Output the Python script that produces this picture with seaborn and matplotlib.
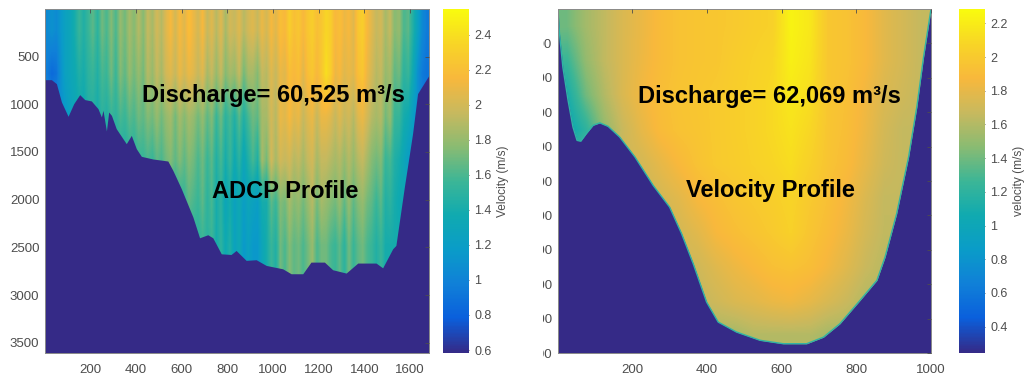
import numpy as np
import seaborn as sns
import matplotlib
matplotlib.use("Agg")
import matplotlib.pyplot as plt
from matplotlib.colors import LinearSegmentedColormap
from matplotlib.transforms import Bbox

sns.set_theme(style="white")
plt.rcParams['font.family'] = ['Liberation Sans', 'DejaVu Sans']

W, H = 1027, 379
GRIS = '#4d4d4d'
FONDO = '#352a87'

parula = ['#352a87', '#0a5fdc', '#1080d8', '#0a9cc8', '#10aab0', '#3cb696',
          '#8abb72', '#c8b95e', '#f8b83c', '#f8d526', '#f9fb0e']

# ADCP: velocidad por estacion (cada 20 unidades) a varias profundidades
adcp_z225 = [1.05, 1.10, 1.05, 1.15, 1.25, 1.30, 1.40, 1.55, 1.45, 1.55,
             1.65, 1.50, 1.70, 1.60, 1.75, 1.60, 1.80, 1.70, 1.85, 1.75,
             1.90, 1.75, 1.95, 1.85, 2.00, 1.90, 2.05, 2.15, 2.00, 2.15,
             2.05, 2.20, 2.10, 2.00, 2.15, 1.95, 2.05, 1.90, 2.05, 1.85,
             2.00, 1.95, 2.05, 1.90, 2.00, 2.05, 1.95, 2.10, 2.00, 2.15,
             2.05, 2.20, 2.15, 2.30, 2.20, 2.25, 2.15, 2.25, 2.30, 2.20,
             2.25, 2.35, 2.30, 2.15, 2.20, 2.10, 2.15, 2.05, 2.25, 2.30,
             2.15, 2.05, 1.95, 2.00, 1.85, 1.95, 1.75, 1.80, 1.60, 1.65,
             1.45, 1.25, 1.05, 0.95]
adcp_z676 = [0.95, 0.85, 0.90, 1.10, 1.25, 1.30, 1.35, 1.45, 1.40, 1.50,
             1.55, 1.45, 1.60, 1.55, 1.70, 1.55, 1.75, 1.65, 1.80, 1.70,
             1.80, 1.70, 1.90, 1.80, 1.95, 1.85, 2.00, 2.05, 1.95, 2.10,
             2.00, 2.10, 2.05, 1.95, 2.05, 1.85, 1.95, 1.80, 1.95, 1.75,
             1.85, 1.80, 1.95, 1.70, 1.85, 1.85, 1.75, 1.95, 1.90, 2.05,
             1.95, 2.10, 2.05, 2.20, 2.15, 2.20, 2.05, 2.20, 2.25, 2.15,
             2.25, 2.40, 2.30, 2.10, 2.15, 2.05, 2.10, 2.05, 2.20, 2.25,
             2.10, 2.00, 1.90, 1.95, 1.80, 1.85, 1.65, 1.70, 1.50, 1.55,
             1.35, 1.10, 0.95, 0.90]
adcp_z1127 = [1.10, 1.10, 1.10, 1.10, 1.15, 1.25, 1.30, 1.35, 1.35, 1.45,
              1.45, 1.40, 1.50, 1.45, 1.55, 1.50, 1.60, 1.55, 1.65, 1.60,
              1.70, 1.65, 1.75, 1.70, 1.80, 1.70, 1.80, 1.85, 1.70, 1.85,
              1.75, 1.85, 1.80, 1.70, 1.80, 1.65, 1.75, 1.55, 1.70, 1.50,
              1.60, 1.45, 1.65, 1.45, 1.60, 1.70, 1.65, 1.85, 1.85, 2.00,
              1.90, 2.10, 2.05, 2.15, 2.05, 2.10, 1.95, 2.05, 2.10, 1.95,
              2.10, 2.10, 2.05, 1.95, 2.05, 1.95, 2.00, 1.90, 2.05, 2.10,
              2.00, 1.90, 1.85, 1.90, 1.70, 1.80, 1.55, 1.55, 1.40, 1.35,
              1.20, 1.10, 1.00, 1.00]
adcp_z1578 = [1.40] * 10 + [1.45] * 8 + [1.50, 1.50,
              1.55, 1.55, 1.60, 1.55, 1.65, 1.60, 1.70, 1.75, 1.65, 1.75,
              1.65, 1.75, 1.70, 1.60, 1.70, 1.55, 1.65, 1.45, 1.60, 1.40,
              1.55, 1.35, 1.50, 1.30, 1.45, 1.60, 1.45, 1.85, 1.70, 2.00,
              1.85, 2.00, 1.95, 2.00, 1.90, 1.95, 1.85, 1.95, 2.00, 1.85,
              1.95, 1.95, 1.90, 1.85, 1.90, 1.80, 1.90, 1.80, 1.90, 1.95,
              1.85, 1.75, 1.70, 1.75, 1.55, 1.60, 1.45, 1.40, 1.30, 1.20,
              1.20, 1.20, 1.20, 1.20]
adcp_z2029 = [1.50] * 30 + [
              1.55, 1.65, 1.60, 1.55, 1.65, 1.50, 1.60, 1.40, 1.50, 1.30,
              1.40, 1.25, 1.35, 1.20, 1.30, 1.25, 1.20, 1.40, 1.40, 1.65,
              1.55, 1.75, 1.70, 1.85, 1.75, 1.80, 1.70, 1.80, 1.90, 1.70,
              1.85, 1.80, 1.75, 1.70, 1.80, 1.65, 1.80, 1.65, 1.75, 1.80,
              1.70, 1.65, 1.55, 1.65, 1.45, 1.50, 1.40, 1.35, 1.35, 1.35,
              1.35, 1.35, 1.35, 1.35]
adcp_z2480 = [1.50] * 34 + [
              1.55, 1.50, 1.55, 1.40, 1.50, 1.35,
              1.45, 1.25, 1.35, 1.15, 1.25, 1.15, 1.15, 1.30, 1.40, 1.55,
              1.45, 1.70, 1.60, 1.75, 1.65, 1.70, 1.60, 1.70, 1.80, 1.60,
              1.70, 1.70, 1.60, 1.55, 1.65, 1.50, 1.70, 1.55, 1.65, 1.70,
              1.60, 1.55, 1.45, 1.55, 1.40, 1.40] + [1.40] * 8

# Modelo: velocidad por estacion (cada 50 unidades) cada 100 de profundidad
vel_z50 = [1.40, 1.55, 1.65, 1.75, 1.82, 1.90, 1.95, 1.97, 1.98, 2.00,
           2.03, 2.05, 2.24, 2.18, 1.98, 1.95, 1.88, 1.78, 1.72, 1.66]
vel_z150 = [1.25, 1.50, 1.65, 1.75, 1.83, 1.90, 1.95, 1.97, 1.98, 2.02,
            2.05, 2.08, 2.22, 2.16, 1.98, 1.95, 1.88, 1.78, 1.72, 1.66]
vel_z250 = [1.10, 1.40, 1.60, 1.75, 1.85, 1.92, 1.96, 1.98, 2.00, 2.03,
            2.06, 2.10, 2.18, 2.13, 1.98, 1.93, 1.85, 1.75, 1.70, 1.66]
vel_z350 = [1.00, 1.20, 1.50, 1.68, 1.80, 1.90, 1.95, 1.97, 2.00, 2.03,
            2.06, 2.10, 2.15, 2.09, 1.97, 1.92, 1.83, 1.72, 1.66, 1.66]
vel_z450 = [1.20, 1.40, 1.60, 1.70, 1.72, 1.80, 1.88, 1.95, 2.00, 2.02,
            2.05, 2.08, 2.12, 2.05, 1.96, 1.90, 1.80, 1.70, 1.66, 1.66]
vel_z550 = [1.60, 1.60, 1.60, 1.65, 1.68, 1.72, 1.78, 1.87, 1.92, 1.97,
            2.00, 2.03, 2.07, 2.00, 1.93, 1.85, 1.75, 1.66, 1.66, 1.66]
vel_z650 = [1.60, 1.60, 1.60, 1.65, 1.65, 1.68, 1.72, 1.78, 1.87, 1.92,
            1.96, 2.00, 2.05, 1.97, 1.90, 1.82, 1.72, 1.65, 1.65, 1.65]
vel_z750 = [1.60, 1.60, 1.60, 1.60, 1.65, 1.65, 1.68, 1.70, 1.77, 1.83,
            1.88, 1.93, 1.95, 1.92, 1.85, 1.77, 1.68, 1.62, 1.60, 1.60]
vel_z850 = [1.60, 1.60, 1.60, 1.60, 1.60, 1.60, 1.62, 1.65, 1.70, 1.75,
            1.78, 1.82, 1.84, 1.80, 1.74, 1.68, 1.60, 1.60, 1.60, 1.60]
vel_z950 = [1.55, 1.55, 1.55, 1.55, 1.55, 1.55, 1.55, 1.55, 1.55, 1.55,
            1.60, 1.60, 1.60, 1.60, 1.55, 1.55, 1.55, 1.55, 1.55, 1.55]

# lecho del rio
adcp_bed_x = [0, 29, 51, 73, 102, 127, 153, 175, 204, 233, 248, 255, 270, 280,
              292, 313, 357, 379, 401, 423, 474, 518, 539, 561, 598, 649, 678,
              714, 736, 773, 816, 838, 882, 926, 970, 1042, 1079, 1130, 1166,
              1225, 1261, 1320, 1371, 1451, 1480, 1524, 1538, 1575, 1611, 1633,
              1669, 1683]
adcp_bed_z = [742, 742, 784, 976, 1126, 993, 899, 951, 965, 1046, 1133, 1063,
              1280, 1081, 1116, 1256, 1413, 1326, 1466, 1546, 1574, 1588, 1595,
              1693, 1885, 2183, 2400, 2368, 2400, 2568, 2575, 2533, 2637, 2630,
              2690, 2725, 2777, 2777, 2655, 2655, 2735, 2770, 2665, 2665, 2715,
              2515, 2480, 1868, 1308, 888, 749, 696]
vel_bed_x = [1, 5, 14, 28, 41, 52, 62, 77, 95, 113, 135, 166, 207, 256, 300,
             332, 363, 399, 430, 479, 542, 604, 667, 712, 756, 810, 855, 877,
             908, 940, 962, 980, 1000]
vel_bed_z = [0, 72, 169, 266, 343, 382, 384, 362, 338, 331, 341, 372, 430, 513,
             576, 653, 740, 852, 910, 939, 963, 973, 973, 954, 915, 847, 789,
             721, 595, 430, 285, 140, 0]

adcp_xticks = [200, 400, 600, 800, 1000, 1200, 1400, 1600]
adcp_yticks = [500, 1000, 1500, 2000, 2500, 3000, 3500]
adcp_cticks = [0.6, 0.8, 1, 1.2, 1.4, 1.6, 1.8, 2, 2.2, 2.4]
vel_xticks = [200, 400, 600, 800, 1000]
vel_yticks = [100, 200, 300, 400, 500, 600, 700, 800, 900, 1000]
vel_cticks = [0.4, 0.6, 0.8, 1, 1.2, 1.4, 1.6, 1.8, 2, 2.2]

cmap = LinearSegmentedColormap.from_list('parula', parula)


def caja(fig, x0, y0, x1, y1):
    # pixeles de la imagen a fracciones de figura
    return fig.add_axes([x0 / W, 1 - y1 / H, (x1 - x0) / W, (y1 - y0) / H])


def panel(ax, cax, tabla, bed_x, bed_z, xlim, ylim, vmin, vmax, xticks, yticks, cticks, clabel):
    nz, nx = tabla.shape
    to_x = lambda v: (np.asarray(v, float) - xlim[0]) / (xlim[1] - xlim[0]) * nx
    to_z = lambda v: (np.asarray(v, float) - ylim[0]) / (ylim[1] - ylim[0]) * nz

    sns.heatmap(tabla, ax=ax, cbar_ax=cax, cmap=cmap, vmin=vmin, vmax=vmax,
                xticklabels=False, yticklabels=False)
    # suavizado sobre las celdas
    ax.imshow(tabla, cmap=cmap, vmin=vmin, vmax=vmax, aspect='auto',
              interpolation='bilinear', extent=(0, nx, nz, 0), zorder=1)
    ax.fill_between(to_x(bed_x), to_z(bed_z), nz, color=FONDO, lw=0, zorder=1.5)
    ax.set_xlim(0, nx)
    ax.set_ylim(nz, 0)

    ax.set_xticks(to_x(xticks))
    ax.set_xticklabels([str(t) for t in xticks])
    ax.set_yticks(to_z(yticks))
    ax.set_yticklabels([str(t) for t in yticks], rotation=0)
    ax.set_axisbelow(False)
    ax.tick_params(direction='in', top=True, right=True, length=3, width=0.6,
                   color=GRIS, labelcolor=GRIS, labelsize=9.5, pad=4)
    ax.tick_params(axis='x', pad=8)
    for s in ax.spines.values():
        s.set_visible(True)
        s.set_color('#8a8a8a')
        s.set_linewidth(0.7)

    cax.set_yticks(cticks)
    cax.set_yticklabels([f'{t:g}' for t in cticks])
    cax.tick_params(direction='in', length=3, width=0.6, color=GRIS,
                    labelcolor=GRIS, labelsize=9, pad=4)
    cax.set_ylabel(clabel, color=GRIS, fontsize=8.6, labelpad=4)
    return to_x, to_z


fig = plt.figure(figsize=(W / 100, H / 100), dpi=100)

# Panel izquierdo
ax1 = caja(fig, 45, 9, 429, 353)
cax1 = caja(fig, 443, 9, 469, 353)
tabla1 = np.array([adcp_z225, adcp_z676, adcp_z1127, adcp_z1578, adcp_z2029,
                   adcp_z2480, adcp_z2480, adcp_z2480])
fx, fz = panel(ax1, cax1, tabla1, adcp_bed_x, adcp_bed_z, (1, 1683), (1, 3608),
               0.583, 2.547, adcp_xticks, adcp_yticks, adcp_cticks, 'Velocity (m/s)')
ax1.text(fx(424), fz(913), 'Discharge= 60,525 m³/s', fontsize=17, fontweight='bold',
         color='black', va='center', ha='left', zorder=5)
ax1.text(fx(1054), fz(1910), 'ADCP Profile', fontsize=17, fontweight='bold',
         color='black', va='center', ha='center', zorder=5)

# Panel derecho
ax2 = caja(fig, 558, 9, 931, 353)
cax2 = caja(fig, 959, 9, 985, 353)
tabla2 = np.array([vel_z50, vel_z150, vel_z250, vel_z350, vel_z450,
                   vel_z550, vel_z650, vel_z750, vel_z850, vel_z950])
gx, gz = panel(ax2, cax2, tabla2, vel_bed_x, vel_bed_z, (1, 1000), (0, 1000),
               0.244, 2.285, vel_xticks, vel_yticks, vel_cticks, 'velocity (m/s)')
ax2.plot(gx(vel_bed_x), gz(vel_bed_z), color='#2fb3a6', lw=1.0, zorder=1.6)
ax2.text(gx(214), gz(253), 'Discharge= 62,069 m³/s', fontsize=17, fontweight='bold',
         color='black', va='center', ha='left', zorder=5)
ax2.text(gx(570), gz(529), 'Velocity Profile', fontsize=17, fontweight='bold',
         color='black', va='center', ha='center', zorder=5)

# las etiquetas del eje y salen cortadas por la izquierda
corte = Bbox.from_extents(543, 0, 558, H)
for lab in ax2.get_yticklabels():
    lab.set_clip_box(corte)
    lab.set_clip_on(True)

fig.savefig('out.png', dpi=100)
